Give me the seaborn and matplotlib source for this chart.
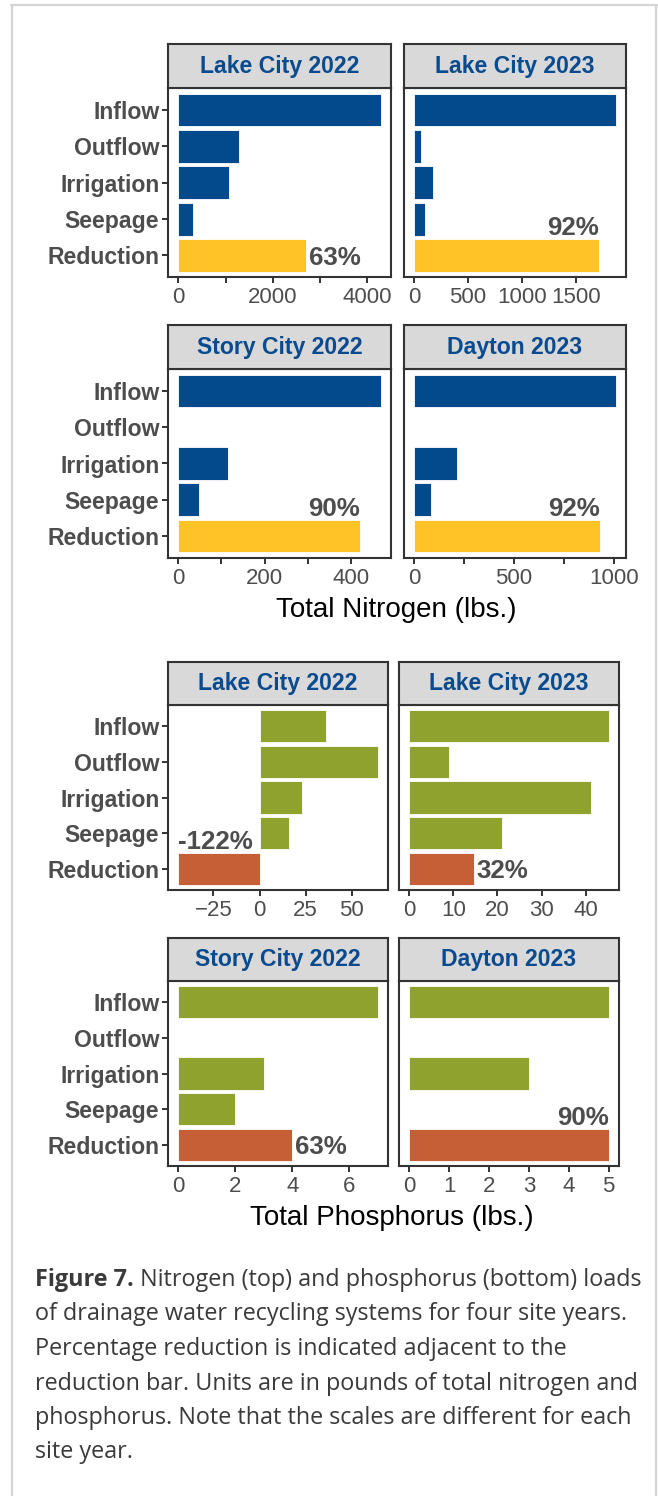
import numpy as np
import pandas as pd
import matplotlib
matplotlib.use("Agg")
import matplotlib.pyplot as plt
import seaborn as sns
from matplotlib.lines import Line2D

# ---------------- data ----------------
components = ["Inflow", "Outflow", "Irrigation", "Seepage", "Reduction"]
sites = ["Lake City 2022", "Lake City 2023", "Story City 2022", "Dayton 2023"]

n_lake_city_2022 = [4300, 1296, 1067, 299, 2700]
n_lake_city_2023 = [1872, 62, 177, 99, 1719]
n_story_city_2022 = [470, 0, 115, 48, 422]
n_dayton_2023 = [1010, 0, 213, 82, 930]

p_lake_city_2022 = [36, 64, 23, 16, -44]
p_lake_city_2023 = [45.2, 9.1, 41.3, 21.1, 14.6]
p_story_city_2022 = [7, 0, 3, 2, 4]
p_dayton_2023 = [5, 0, 3, 0, 5]

n_pct_labels = ["63%", "92%", "90%", "92%"]
p_pct_labels = ["-122%", "32%", "63%", "90%"]
n_label_mode = ["right", "above", "above", "above"]
p_label_mode = ["above", "right", "right", "above"]

n_major_ticks = [[0, 2000, 4000], [0, 500, 1000, 1500], [0, 200, 400], [0, 500, 1000]]
n_minor_ticks = [[1000, 3000], [], [100, 300], [250, 750]]
p_major_ticks = [[-25, 0, 25, 50], [0, 10, 20, 30, 40], [0, 2, 4, 6], [0, 1, 2, 3, 4, 5]]
p_minor_ticks = [[], [], [], []]

caption_bold = "Figure 7."
caption_lines = [
    " Nitrogen (top) and phosphorus (bottom) loads",
    "of drainage water recycling systems for four site years.",
    "Percentage reduction is indicated adjacent to the",
    "reduction bar. Units are in pounds of total nitrogen and",
    "phosphorus. Note that the scales are different for each",
    "site year.",
]

# ---------------- style ----------------
sns.set_style("white")
plt.rcParams["font.family"] = ["Liberation Sans", "DejaVu Sans"]

N_BLUE = "#024A8C"
N_YELLOW = "#FFC328"
P_GREEN = "#90A22E"
P_RED = "#C65F36"
STRIP_TXT = "#0A4B8F"
GREY_TXT = "#4D4D4D"
DARK = "#333333"

W, H = 658, 1496
fig = plt.figure(figsize=(W / 100, H / 100), dpi=100)


def rect(x0, x1, y0, y1):
    return [x0 / W, 1 - y1 / H, (x1 - x0) / W, (y1 - y0) / H]


def px2pt(p):
    return p * 72 / 100


def draw_panel(ax, values, c_main, c_red, major, minor, label, mode, show_y):
    df = pd.DataFrame({"component": components, "load": values})
    pal = {c: (c_red if c == "Reduction" else c_main) for c in components}
    sns.barplot(data=df, x="load", y="component", hue="component",
                order=components, hue_order=components, palette=pal,
                legend=False, orient="h", width=0.9, saturation=1,
                edgecolor="white", linewidth=0.6, ax=ax)
    lo = min(0, min(values))
    hi = max(values)
    rng = hi - lo
    ax.set_xlim(lo - 0.05 * rng, hi + 0.05 * rng)
    ax.set_ylim(4.6, -0.6)
    ax.set_xlabel("")
    ax.set_ylabel("")
    ax.set_xticks(major)
    ax.set_xticks(minor, minor=True)
    ax.tick_params(axis="x", which="both", length=px2pt(6), width=1.4,
                   color=DARK, labelsize=16, labelcolor=GREY_TXT,
                   pad=px2pt(4), bottom=True)
    if show_y:
        ax.tick_params(axis="y", length=px2pt(6), width=1.4, color=DARK,
                       labelsize=16.6, labelcolor=GREY_TXT, pad=px2pt(3),
                       left=True)
        for t in ax.get_yticklabels():
            t.set_fontweight("bold")
    else:
        ax.tick_params(axis="y", left=False, labelleft=False)
    for s in ax.spines.values():
        s.set_visible(True)
        s.set_color(DARK)
        s.set_linewidth(1.5)
    red_val = values[4]
    if mode == "right":
        ax.annotate(label, xy=(red_val, 4), xytext=(px2pt(3), px2pt(-9.5)),
                    textcoords="offset points", ha="left", va="baseline",
                    fontsize=18.6, fontweight="bold", color=GREY_TXT)
    else:
        ha = "right" if red_val > 0 else "left"
        ax.annotate(label, xy=(red_val, 3.55), xytext=(0, px2pt(4)),
                    textcoords="offset points", ha=ha, va="baseline",
                    fontsize=18.6, fontweight="bold", color=GREY_TXT)


def draw_strip(r, title):
    ax = fig.add_axes(r)
    ax.set_facecolor("#D9D9D9")
    ax.set_xticks([])
    ax.set_yticks([])
    for s in ax.spines.values():
        s.set_visible(True)
        s.set_color(DARK)
        s.set_linewidth(1.5)
    ax.text(0.5, 0.34, title, transform=ax.transAxes, ha="center",
            va="baseline", fontsize=16.6, fontweight="bold", color=STRIP_TXT)


n_data = [n_lake_city_2022, n_lake_city_2023, n_story_city_2022, n_dayton_2023]
p_data = [p_lake_city_2022, p_lake_city_2023, p_story_city_2022, p_dayton_2023]

n_cols = [(168.3, 391.0), (404.3, 625.7)]
n_rows = [(44, 88.3, 277.3), (325, 369.3, 557.7)]
p_cols = [(168.3, 387.7), (399.3, 618.5)]
p_rows = [(661.7, 705, 890), (938.3, 981, 1166)]

for i in range(4):
    r, c = divmod(i, 2)
    x0, x1 = n_cols[c]
    s0, s1, b = n_rows[r]
    ax = fig.add_axes(rect(x0, x1, s1, b))
    draw_panel(ax, n_data[i], N_BLUE, N_YELLOW, n_major_ticks[i], n_minor_ticks[i],
               n_pct_labels[i], n_label_mode[i], c == 0)
    draw_strip(rect(x0, x1, s0, s1), sites[i])

    x0, x1 = p_cols[c]
    s0, s1, b = p_rows[r]
    ax = fig.add_axes(rect(x0, x1, s1, b))
    draw_panel(ax, p_data[i], P_GREEN, P_RED, p_major_ticks[i], p_minor_ticks[i],
               p_pct_labels[i], p_label_mode[i], c == 0)
    draw_strip(rect(x0, x1, s0, s1), sites[i])

fig.text(396 / W, 1 - 610 / H, "Total Nitrogen (lbs.)", ha="center",
         va="center", fontsize=20, color="black")
fig.text(391.5 / W, 1 - 1218 / H, "Total Phosphorus (lbs.)", ha="center",
         va="center", fontsize=20, color="black")

# outer light border
bc = "#D4D4D4"
fig.add_artist(Line2D([12 / W, 12 / W], [0, 1 - 5 / H], transform=fig.transFigure, color=bc, lw=1.6))
fig.add_artist(Line2D([656 / W, 656 / W], [0, 1 - 5 / H], transform=fig.transFigure, color=bc, lw=1.6))
fig.add_artist(Line2D([11 / W, 657 / W], [1 - 5 / H, 1 - 5 / H], transform=fig.transFigure, color=bc, lw=1.6))

# caption
cap_font = ["Open Sans", "DejaVu Sans"]
cap_color = "#3A3A3A"
cap_fs = 13.0
renderer = fig.canvas.get_renderer()
probe = fig.text(0, 0, caption_bold + caption_lines[0], fontsize=cap_fs, family=cap_font)
wpx = probe.get_window_extent(renderer).width
probe.remove()
cap_fs = cap_fs * 601 / wpx

x_cap = 35 / W
baselines = [1286, 1320.5, 1355, 1389.5, 1424, 1458.5]
tb = fig.text(x_cap, 1 - baselines[0] / H, caption_bold, fontsize=cap_fs,
              family=cap_font, fontweight="bold", color=cap_color, va="baseline")
fig.canvas.draw()
bx1 = tb.get_window_extent(renderer).x1 / W
fig.text(bx1, 1 - baselines[0] / H, caption_lines[0], fontsize=cap_fs,
         family=cap_font, color=cap_color, va="baseline")
for k in range(1, len(caption_lines)):
    fig.text(x_cap, 1 - baselines[k] / H, caption_lines[k], fontsize=cap_fs,
             family=cap_font, color=cap_color, va="baseline")

fig.savefig("out.png", dpi=100)
